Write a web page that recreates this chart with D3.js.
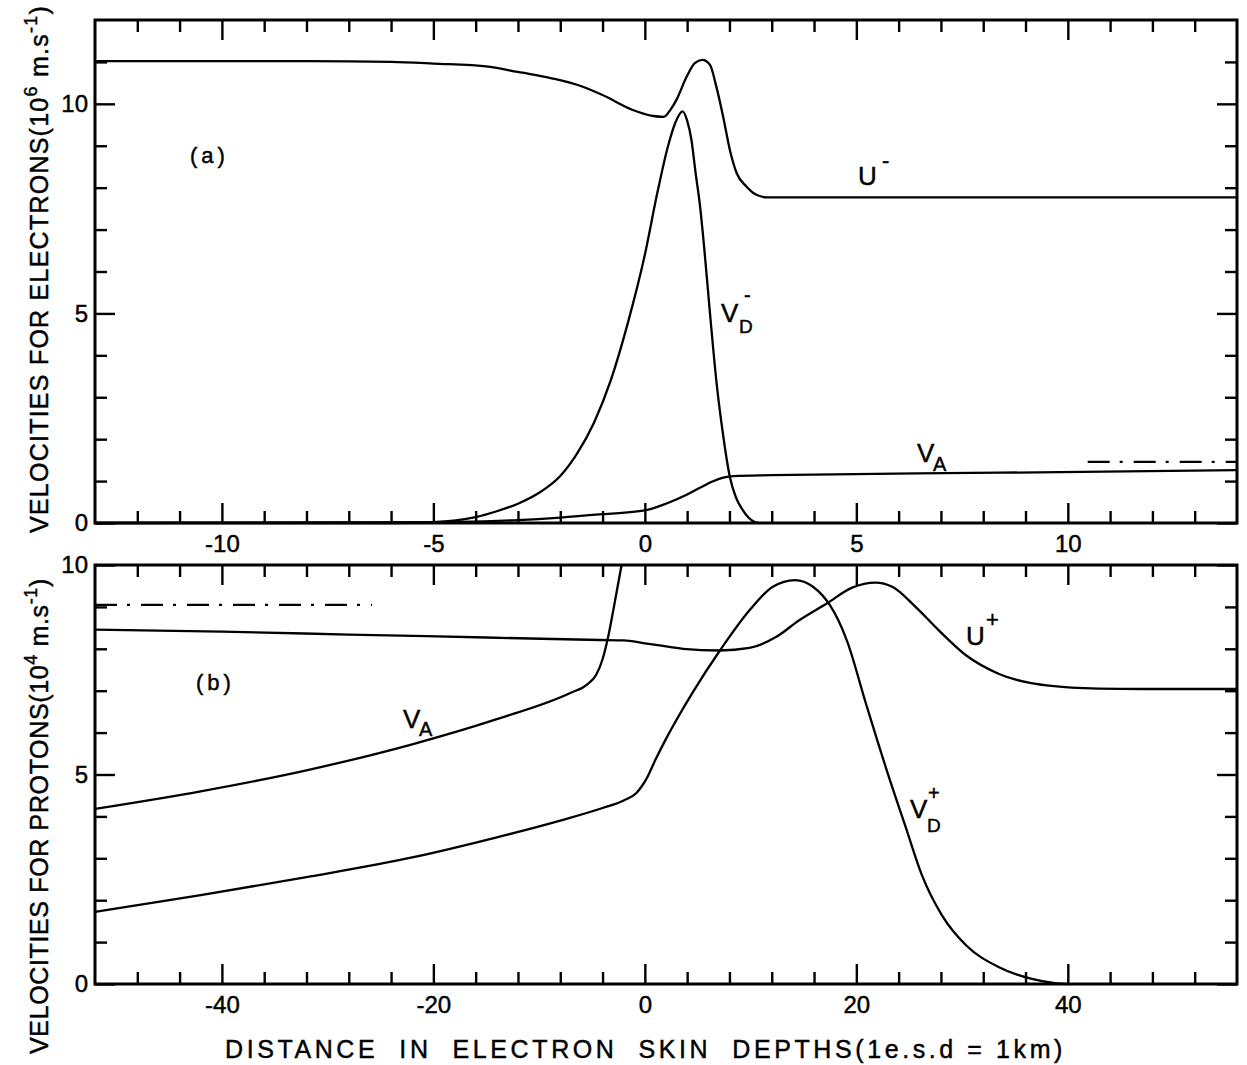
<!DOCTYPE html>
<html><head><meta charset="utf-8">
<script src="https://cdn.jsdelivr.net/npm/d3@7"></script>
<style>
body{margin:0;background:#fff}
svg{display:block;background:#fff}
text{font-family:"Liberation Sans",Arial,sans-serif;fill:#000;stroke:#000;stroke-width:0.45px}
</style>
</head><body>
<svg id="chart" width="1247" height="1065"></svg>
<script>
// ---------- DATA (panel a: electrons, x in e.s.d, v in 10^6 m/s) ----------
const uMinus = [[-13,11.02],[-8,11.02],[-6,11.0],[-5,10.96],[-3.7,10.89],[-3,10.76],[-2.2,10.61],[-1.5,10.42],[-1,10.21],[-0.3,9.86],[0.2,9.71],[0.45,9.69],[0.6,9.85],[0.75,10.1],[0.99,10.65],[1.18,10.97],[1.36,11.05],[1.54,10.93],[1.69,10.41],[1.85,9.7],[2.01,8.9],[2.17,8.35],[2.4,8.03],[2.64,7.83],[2.88,7.77],[14,7.77]];
const vdMinus = [[-13,0],[-6,0],[-5,0.02],[-4,0.14],[-3.5,0.28],[-3,0.46],[-2.5,0.72],[-2,1.12],[-1.6,1.66],[-1.2,2.4],[-0.8,3.42],[-0.4,4.78],[0,6.4],[0.3,7.9],[0.55,9.0],[0.72,9.55],[0.89,9.82],[1.0,9.6],[1.1,9.15],[1.2,8.35],[1.3,7.6],[1.4,6.6],[1.54,5.0],[1.7,3.3],[1.85,2.1],[2.01,1.1],[2.15,0.62],[2.3,0.33],[2.45,0.13],[2.6,0.02],[2.7,0]];
const vaMinus = [[-13,0],[-5,0.02],[-3,0.07],[-2,0.13],[-1,0.21],[0,0.3],[0.5,0.46],[1.0,0.68],[1.3,0.84],[1.6,0.99],[1.85,1.08],[2.1,1.12],[3,1.14],[8.4,1.2],[14,1.26]];
const vaMinusLimit = [[10.47,1.46],[14,1.46]];
const xTicksA = [-10,-5,0,5,10];
const yTicksA = [0,5,10];

// ---------- DATA (panel b: protons, x in e.s.d, v in 10^4 m/s) ----------
const uPlus = [[-52,8.46],[-40,8.41],[-28,8.34],[-15,8.27],[-4.25,8.21],[-2,8.2],[0,8.13],[1.4,8.08],[3.6,8.0],[7.1,7.96],[9.9,8.02],[12.4,8.28],[14.6,8.68],[17.2,9.08],[19.6,9.46],[21.8,9.58],[23.4,9.48],[25.6,9.0],[27.8,8.44],[30.4,7.84],[33.5,7.4],[38.2,7.12],[42.9,7.05],[47,7.04],[56,7.04]];
const vdPlus = [[-52,1.72],[-42,2.12],[-32,2.55],[-22,3.02],[-14,3.5],[-8,3.9],[-4,4.2],[-2,4.38],[-0.8,4.56],[0.2,4.92],[1.0,5.35],[2.0,5.85],[4.5,6.95],[7.1,7.96],[9.9,8.92],[12.1,9.48],[14.2,9.64],[15.9,9.48],[17.5,9.04],[18.3,8.68],[19.1,8.2],[20.9,6.7],[22.8,5.16],[24.7,3.72],[26.2,2.6],[28.1,1.64],[30.4,0.92],[33.5,0.4],[36.6,0.12],[38.8,0.02],[40,0]];
const vaPlus = [[-52,4.18],[-42,4.6],[-32,5.1],[-22,5.72],[-14,6.32],[-7,6.95],[-5.5,7.14],[-4.6,7.38],[-4.0,7.75],[-3.5,8.25],[-3.0,8.9],[-2.6,9.45],[-2.2,10.0]];
const vaPlusLimit = [[-52,9.05],[-25.8,9.05]];
const xTicksB = [-40,-20,0,20,40];
const yTicksB = [0,5,10];

// ---------- LAYOUT ----------
const svg = d3.select("#chart");
const L = 95, R = 1237;
const xA = d3.scaleLinear().domain([-13,14]).range([L,R]);
const yA = d3.scaleLinear().domain([0,12]).range([523,20]);
const xB = d3.scaleLinear().domain([-52,56]).range([L,R]);
const yB = d3.scaleLinear().domain([0,10]).range([984,565]);

const FS = 24;
function panel(x, y, xMinor, xMajor, yMinor, yMajor) {
  const g = svg.append("g");
  const [y0, y1] = y.range();
  const [x0, x1] = x.range();
  const style = sel => { sel.select(".domain").remove(); sel.selectAll("line").attr("stroke","#000").attr("stroke-width",2.4); sel.selectAll("text").attr("font-size",FS).attr("fill","#000").style("font-family","'Liberation Sans',Arial,sans-serif"); };
  g.append("g").attr("transform",`translate(0,${y0})`).call(d3.axisBottom(x).tickValues(xMinor).tickSize(-12).tickFormat("")).call(style);
  g.append("g").attr("transform",`translate(0,${y0})`).call(d3.axisBottom(x).tickValues(xMajor).tickSize(-20).tickPadding(12).tickFormat(d=>d<0?"-"+Math.abs(d):d)).call(style);
  g.append("g").attr("transform",`translate(0,${y1})`).call(d3.axisTop(x).tickValues(xMinor).tickSize(-12).tickFormat("")).call(style);
  g.append("g").attr("transform",`translate(0,${y1})`).call(d3.axisTop(x).tickValues(xMajor).tickSize(-20).tickFormat("")).call(style);
  g.append("g").attr("transform",`translate(${x0},0)`).call(d3.axisLeft(y).tickValues(yMinor).tickSize(-12).tickFormat("")).call(style);
  g.append("g").attr("transform",`translate(${x0},0)`).call(d3.axisLeft(y).tickValues(yMajor).tickSize(-20).tickPadding(7).tickFormat(d=>d)).call(style);
  g.append("g").attr("transform",`translate(${x1},0)`).call(d3.axisRight(y).tickValues(yMinor).tickSize(-12).tickFormat("")).call(style);
  g.append("g").attr("transform",`translate(${x1},0)`).call(d3.axisRight(y).tickValues(yMajor).tickSize(-20).tickFormat("")).call(style);
  g.append("rect").attr("x",x0).attr("y",y1).attr("width",x1-x0).attr("height",y0-y1)
    .attr("fill","none").attr("stroke","#000").attr("stroke-width",3);
  return g;
}
panel(xA, yA, d3.range(-12,14).filter(d=>d%5!==0), xTicksA, d3.range(1,12).filter(d=>d%5!==0), yTicksA);
panel(xB, yB, d3.range(-48,56,4).filter(d=>d%20!==0), xTicksB, d3.range(1,10).filter(d=>d%5!==0), yTicksB);

function drawLine(data, x, y, dash) {
  const line = d3.line().x(d=>x(d[0])).y(d=>y(d[1])).curve(dash ? d3.curveLinear : d3.curveMonotoneX);
  svg.append("path").datum(data).attr("d", line).attr("fill","none").attr("stroke","#000")
    .attr("stroke-width",2.3).attr("stroke-linejoin","round")
    .attr("stroke-dasharray", dash ? "22,10,3,11" : null);
}
drawLine(uMinus, xA, yA);
drawLine(vdMinus, xA, yA);
drawLine(vaMinus, xA, yA);
drawLine(vaMinusLimit, xA, yA, true);
drawLine(uPlus, xB, yB);
drawLine(vdPlus, xB, yB);
drawLine(vaPlus, xB, yB);
drawLine(vaPlusLimit, xB, yB, true);

// ---------- LABELS ----------
function lab(x, y, t, fs, extra) {
  const e = svg.append("text").attr("x",x).attr("y",y).attr("font-size",fs).text(t);
  if (extra) extra(e);
  return e;
}
lab(190,163,"(a)",22, e=>e.attr("letter-spacing",4));
lab(196,690,"(b)",22, e=>e.attr("letter-spacing",4));
lab(858,185,"U",26); lab(882,168,"-",22);
lab(721,322,"V",26); lab(739,333,"D",19); lab(744,302,"-",20);
lab(917,462,"V",26); lab(933,471,"A",20);
lab(966,645,"U",26); lab(986,627,"+",22);
lab(910,818,"V",26); lab(927,832,"D",19); lab(928,800,"+",20);
lab(403,728,"V",26); lab(419,736,"A",20);

// ---------- AXIS TITLES ----------
function fit(sel, target) {
  const n = sel.text().length;
  const len = sel.node().getComputedTextLength();
  sel.attr("letter-spacing", Math.max(0,(target-len)/n));
}
function yTitle(x, y, main, sup1, mid, sup2, target) {
  const t = svg.append("text").attr("transform",`translate(${x},${y}) rotate(-90)`).attr("font-size",25);
  t.append("tspan").text(main);
  t.append("tspan").attr("dy",-11).attr("font-size",18).text(sup1);
  t.append("tspan").attr("dy",11).text(mid);
  t.append("tspan").attr("dy",-11).attr("font-size",18).text(sup2);
  t.append("tspan").attr("dy",11).text(")");
  fit(t, target);
}
yTitle(48,533,"VELOCITIES FOR ELECTRONS(10","6"," m.s","-1",528);
yTitle(48,1054,"VELOCITIES FOR PROTONS(10","4"," m.s","-1",476);
const xt = svg.append("text").attr("x",225).attr("y",1058).attr("font-size",25)
  .style("white-space","pre").text("DISTANCE  IN  ELECTRON  SKIN  DEPTHS(1e.s.d = 1km)");
fit(xt, 841);
</script>
</body></html>
